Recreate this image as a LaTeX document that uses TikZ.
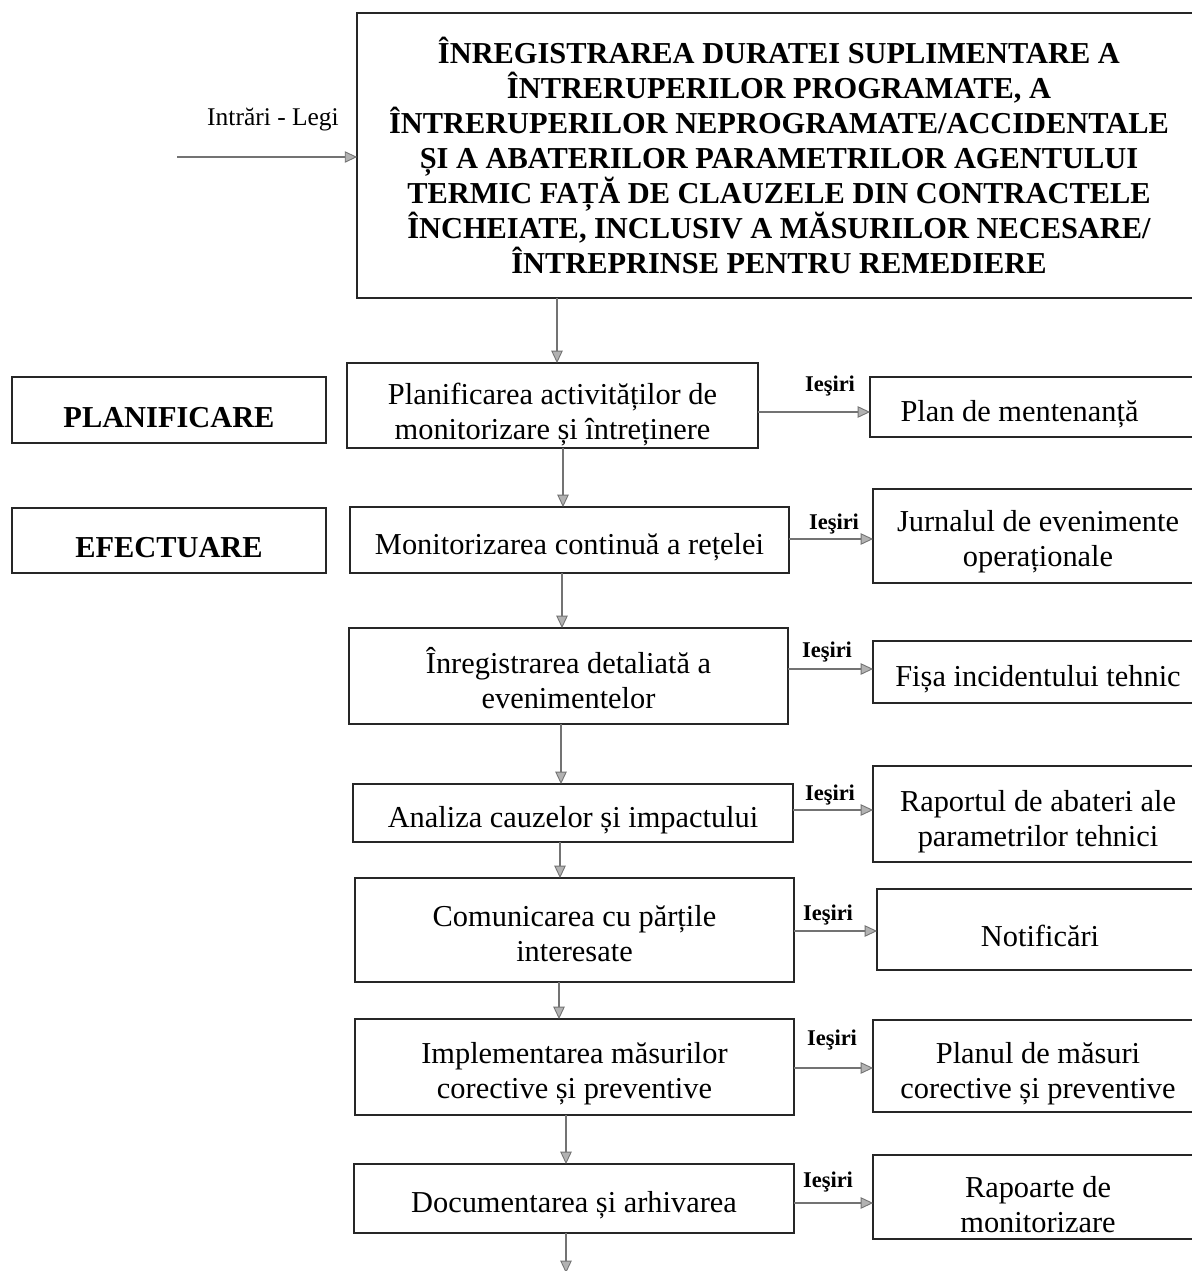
\documentclass[tikz,border=0pt]{standalone}
\usepackage{fontspec}
\setmainfont{Liberation Serif}
\usetikzlibrary{arrows.meta}
\newcommand\lift[1]{\rule{0pt}{#1pt}}
\begin{document}
\begin{tikzpicture}[x=0.02cm,y=-0.02cm,
  box/.style={draw=black!85,line width=1.1pt,inner sep=0pt,outer sep=0pt,align=center,
    font=\fontsize{17.3}{20}\selectfont,execute at begin node={\rule{0pt}{20pt}}},
  bbox/.style={box,font=\fontsize{17.3}{20}\selectfont\bfseries},
  topbox/.style={draw=black!85,line width=1.1pt,inner sep=0pt,outer sep=0pt,align=center,
    font=\fontsize{17.3}{20}\selectfont\bfseries},
  conn/.style={draw=black!55,line width=0.75pt,
    -{Triangle[length=7pt,width=6.5pt,fill=black!30,color=black!55,line width=0.5pt]}},
  outlbl/.style={inner sep=0pt,font=\fontsize{12.8}{14}\selectfont\bfseries},
  inlbl/.style={inner sep=0pt,font=\fontsize{14.5}{16}\selectfont}]
\useasboundingbox (0,0) rectangle (1192,1271);
\clip (0,0) rectangle (1192,1271);
\fill[white] (0,0) rectangle (1192,1271);

% top box
\node[topbox,minimum width=16.88cm,minimum height=5.70cm] (top) at (779,155.5)
 {ÎNREGISTRAREA DURATEI SUPLIMENTARE A\\ ÎNTRERUPERILOR PROGRAMATE, A\\ ÎNTRERUPERILOR NEPROGRAMATE/ACCIDENTALE\\ ȘI A ABATERILOR PARAMETRILOR AGENTULUI\\ TERMIC FAȚĂ DE CLAUZELE DIN CONTRACTELE\\ ÎNCHEIATE, INCLUSIV A MĂSURILOR NECESARE/\\ ÎNTREPRINSE PENTRU REMEDIERE};
\node[inlbl] (inl) at (273,120) {Intrări - Legi};
\coordinate (instart) at (177,157);

% left labels
\node[bbox,minimum width=6.28cm,minimum height=1.32cm] (planL) at (169,410) {PLANIFICARE};
\node[bbox,minimum width=6.28cm,minimum height=1.30cm] (efL) at (169,540.5) {EFECTUARE};

% process boxes
\node[box,minimum width=8.22cm,minimum height=1.70cm] (planif) at (552.5,405.5) {\lift{22}Planificarea activităților de\\ monitorizare și întreținere};
\node[box,minimum width=8.78cm,minimum height=1.32cm] (monitor) at (569.5,540) {Monitorizarea continuă a rețelei};
\node[box,minimum width=8.78cm,minimum height=1.92cm] (inreg) at (568.5,676) {\lift{17}Înregistrarea detaliată a\\ evenimentelor};
\node[box,minimum width=8.80cm,minimum height=1.16cm] (analiza) at (573,813) {Analiza cauzelor și impactului};
\node[box,minimum width=8.78cm,minimum height=2.08cm] (comun) at (574.5,930) {\lift{16}Comunicarea cu părțile\\ interesate};
\node[box,minimum width=8.78cm,minimum height=1.92cm] (impl) at (574.5,1067) {\lift{20}Implementarea măsurilor\\ corective și preventive};
\node[box,minimum width=8.80cm,minimum height=1.38cm] (doc) at (574,1198.5) {Documentarea și arhivarea};
\coordinate (end) at (566,1273);

% output boxes
\node[box,minimum width=6.66cm,minimum height=1.20cm] (plan) at (1036.5,407) {Plan de mentenanță\hspace*{0.68cm}};
\node[box,minimum width=6.60cm,minimum height=1.88cm] (jurnal) at (1038,536) {\lift{18}Jurnalul de evenimente\\ operaționale};
\node[box,minimum width=6.60cm,minimum height=1.24cm] (fisa) at (1038,672) {Fișa incidentului tehnic};
\node[box,minimum width=6.60cm,minimum height=1.92cm] (raport) at (1038,814) {\lift{21}Raportul de abateri ale\\ parametrilor tehnici};
\node[box,minimum width=6.52cm,minimum height=1.62cm] (notif) at (1040,929.5) {Notificări};
\node[box,minimum width=6.60cm,minimum height=1.84cm] (planul) at (1038,1066) {\lift{21}Planul de măsuri\\ corective și preventive};
\node[box,minimum width=6.60cm,minimum height=1.68cm] (rap) at (1038,1197) {\lift{21}Rapoarte de\\ monitorizare};

% Iesiri labels
\node[outlbl] (o1) at (830,386) {Ieşiri};
\node[outlbl] (o2) at (834,524) {Ieşiri};
\node[outlbl] (o3) at (827,652) {Ieşiri};
\node[outlbl] (o4) at (830,795) {Ieşiri};
\node[outlbl] (o5) at (828,915) {Ieşiri};
\node[outlbl] (o6) at (832,1040) {Ieşiri};
\node[outlbl] (o7) at (828,1182) {Ieşiri};

% input arrow
\draw[conn] (instart) -- (instart -| top.west);

% vertical flow
\draw[conn] ([xshift=0.09cm]planif.north |- top.south) -- ([xshift=0.09cm]planif.north);
\draw[conn] ([xshift=-0.13cm]monitor.north |- planif.south) -- ([xshift=-0.13cm]monitor.north);
\draw[conn] ([xshift=-0.13cm]inreg.north |- monitor.south) -- ([xshift=-0.13cm]inreg.north);
\draw[conn] ([xshift=-0.24cm]analiza.north |- inreg.south) -- ([xshift=-0.24cm]analiza.north);
\draw[conn] ([xshift=-0.29cm]comun.north |- analiza.south) -- ([xshift=-0.29cm]comun.north);
\draw[conn] ([xshift=-0.31cm]impl.north |- comun.south) -- ([xshift=-0.31cm]impl.north);
\draw[conn] ([xshift=-0.16cm]doc.north |- impl.south) -- ([xshift=-0.16cm]doc.north);
\draw[conn] (end |- doc.south) -- (end);

% outputs
\draw[conn] ([yshift=-0.10cm]plan.west -| planif.east) -- ([yshift=-0.10cm]plan.west);
\draw[conn] ([yshift=-0.06cm]jurnal.west -| monitor.east) -- ([yshift=-0.06cm]jurnal.west);
\draw[conn] ([yshift=0.06cm]fisa.west -| inreg.east) -- ([yshift=0.06cm]fisa.west);
\draw[conn] ([yshift=0.08cm]raport.west -| analiza.east) -- ([yshift=0.08cm]raport.west);
\draw[conn] ([yshift=-0.03cm]notif.west -| comun.east) -- ([yshift=-0.03cm]notif.west);
\draw[conn] ([yshift=-0.04cm]planul.west -| impl.east) -- ([yshift=-0.04cm]planul.west);
\draw[conn] ([yshift=-0.12cm]rap.west -| doc.east) -- ([yshift=-0.12cm]rap.west);
\end{tikzpicture}
\end{document}
